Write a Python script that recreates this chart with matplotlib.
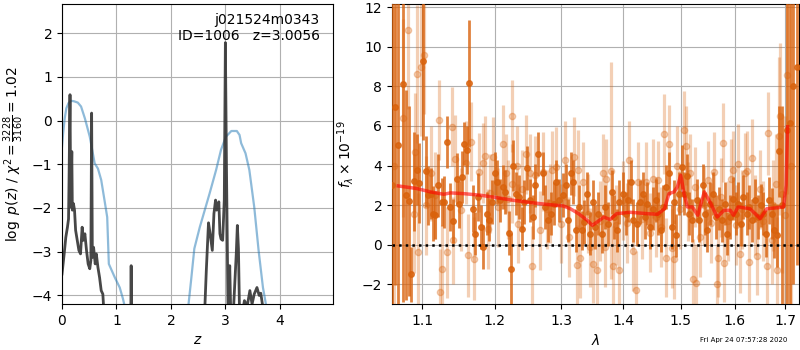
import matplotlib
matplotlib.use('Agg')
import matplotlib.pyplot as plt
from matplotlib.ticker import NullLocator, FixedLocator, FixedFormatter

# p(z) panel
pz_z = [0.00, 0.02, 0.05, 0.08, 0.12, 0.17, 0.22, 0.29, 0.35, 0.42, 0.51, 0.60,
        0.66, 0.72, 0.78, 0.83, 0.86, 0.97, 1.06, 1.12, 1.16, 1.3, 2.2, 2.32,
        2.37, 2.43, 2.53, 2.71, 2.83, 2.92, 3.01, 3.11, 3.21, 3.26, 3.29, 3.37,
        3.44, 3.53, 3.61, 3.69, 3.75, 3.9, 5.0]
pz_logp = [-0.60, -0.30, 0.05, 0.28, 0.40, 0.45, 0.44, 0.41, 0.32, 0.05, -0.37, -0.98,
           -1.10, -1.36, -1.82, -2.21, -3.28, -3.59, -3.82, -4.08, -4.3, -6.0, -6.0, -4.24,
           -3.66, -2.93, -2.44, -1.67, -1.13, -0.67, -0.37, -0.24, -0.24, -0.33, -0.52, -0.75,
           -1.13, -1.98, -2.97, -3.82, -4.24, -6.0, -8.0]

chi2_z = [0.00, 0.04, 0.07, 0.10, 0.12, 0.13, 0.147, 0.16, 0.18, 0.19, 0.21, 0.23,
          0.25, 0.28, 0.31, 0.34, 0.37, 0.39, 0.42, 0.45, 0.48, 0.51, 0.53, 0.544,
          0.557, 0.58, 0.61, 0.63, 0.66, 0.69, 0.72, 0.75, 0.78, 0.90, 1.10, 1.255,
          1.27, 1.285, 1.50, 2.40, 2.60, 2.65, 2.69, 2.72, 2.76, 2.79, 2.82, 2.84,
          2.88, 2.90, 2.92, 2.95, 2.98, 3.00, 3.02, 3.05, 3.08, 3.10, 3.15, 3.20,
          3.22, 3.24, 3.26, 3.30, 3.35, 3.40, 3.45, 3.49, 3.53, 3.58, 3.62, 3.65,
          3.68, 3.72, 4.00, 5.00]
chi2_logp = [-3.51, -3.05, -2.67, -2.44, -2.25, -1.29, 0.59, -1.98, -0.71, -2.05, -1.90, -2.05,
             -2.51, -2.74, -2.97, -3.05, -2.44, -2.74, -2.59, -2.97, -3.28, -3.39, -3.20, 0.17,
             -3.13, -2.90, -3.28, -3.05, -3.36, -3.59, -3.89, -3.97, -4.60, -7.0, -9.0, -6.0,
             -3.32, -6.0, -10.0, -10.0, -5.0, -3.43, -2.34, -2.59, -2.97, -2.13, -1.82, -2.05,
             -1.86, -2.59, -2.71, -2.74, -1.82, 1.78, -1.06, -4.50, -3.32, -4.50, -4.30, -3.05,
             -2.40, -2.93, -4.40, -4.50, -4.12, -4.25, -3.89, -4.20, -3.97, -3.82, -4.00, -3.95,
             -4.20, -5.0, -9.0, -12.0]

# spectrum panel: first beam (dark)
dark_wave = [1.0615, 1.0645, 1.0688, 1.0752, 1.0787, 1.0830, 1.0860, 1.0891, 1.0927, 1.0960,
             1.1013, 1.1045, 1.1079, 1.1115, 1.1146, 1.1178, 1.1213, 1.1259, 1.1290, 1.1335,
             1.1381, 1.1417, 1.1464, 1.1495, 1.1533, 1.1564, 1.1602, 1.1634, 1.1686, 1.1718,
             1.1756, 1.1799, 1.1835, 1.1884, 1.1917, 1.1956, 1.2003, 1.2036, 1.2075, 1.2114,
             1.2148, 1.2206, 1.2231, 1.2269, 1.2310, 1.2354, 1.2394, 1.2428, 1.2477, 1.2518,
             1.2558, 1.2593, 1.2642, 1.2710, 1.2745, 1.2795, 1.2832, 1.2883, 1.2914, 1.2965,
             1.3018, 1.3070, 1.3106, 1.3144, 1.3185, 1.3228, 1.3280, 1.3318, 1.3355, 1.3407,
             1.3451, 1.3494, 1.3534, 1.3587, 1.3643, 1.3697, 1.3751, 1.3807, 1.3846, 1.3891,
             1.3934, 1.3991, 1.4047, 1.4085, 1.4126, 1.4170, 1.4228, 1.4285, 1.4331, 1.4371,
             1.4410, 1.4458, 1.4504, 1.4562, 1.4601, 1.4644, 1.4689, 1.4737, 1.4790, 1.4838,
             1.4880, 1.4916, 1.4974, 1.5018, 1.5060, 1.5108, 1.5155, 1.5205, 1.5290, 1.5339,
             1.5400, 1.5443, 1.5486, 1.5536, 1.5598, 1.5648, 1.5711, 1.5755, 1.5818, 1.5862,
             1.5913, 1.5964, 1.6028, 1.6073, 1.6118, 1.6170, 1.6235, 1.6287, 1.6339, 1.6398,
             1.6451, 1.6510, 1.6563, 1.6616, 1.6670, 1.6730, 1.6777, 1.6830, 1.6884, 1.6930,
             1.7034, 1.7102, 1.7171, 1.7240]
dark_flux = [3.00, 6.97, 5.06, 8.10, 2.50, 2.19, -1.50, 3.20, 3.80, 3.12,
             9.28, 3.71, 2.50, 2.58, 1.57, 1.49, 3.00, 2.16, 2.16, 5.20,
             1.90, 1.20, 3.34, 2.04, 3.43, 5.11, 4.78, 8.15, 1.82, 0.56,
             2.41, 0.89, -0.12, 1.57, 1.27, 2.16, 3.60, 3.17, 2.24, 2.92,
             2.67, 0.60, -1.22, 4.00, 2.58, 2.41, 0.81, 2.16, 3.88, 2.24,
             1.40, 3.00, 4.57, 3.60, 1.90, 1.23, 1.57, 2.08, 3.17, 2.24,
             2.50, 3.00, 1.23, 3.60, 3.17, 0.73, 1.90, 0.73, 1.15, 2.58,
             0.56, 2.16, 0.89, 1.57, 0.56, 1.90, 1.06, 2.67, 1.40, 0.73,
             2.16, 2.58, 1.57, 2.24, 3.17, 1.23, 1.06, 2.16, 2.58, 1.40,
             2.08, 0.89, 1.82, 2.24, 1.57, 0.73, 1.90, 2.92, 3.60, 0.89,
             2.16, 0.47, 2.58, 3.93, 2.58, 3.48, 1.57, 1.23, 2.24, 1.23,
             3.00, 1.57, 0.73, 2.08, 2.58, 1.40, 1.82, 1.23, 2.08, 0.56,
             1.40, 2.33, 1.57, 2.08, 1.06, 2.41, 1.57, 1.90, 1.23, 2.24,
             1.40, 1.99, 1.57, 0.56, 2.24, 1.57, 0.73, 0.47, 4.73, 2.00,
             5.79, 6.13, 8.00, 9.00]
dark_err = [12.0, 9.0, 10.0, 11.0, 5.3, 4.8, 1.4, 2.5, 1.8, 2.0,
            4.0, 1.8, 1.5, 1.3, 1.4, 1.2, 1.6, 1.2, 1.3, 1.3,
            1.2, 1.1, 1.3, 1.2, 1.3, 1.1, 1.2, 3.2, 1.2, 1.1,
            1.2, 1.1, 1.1, 1.1, 1.1, 1.1, 1.1, 1.1, 1.1, 1.1,
            1.1, 1.1, 1.8, 1.3, 1.1, 1.1, 1.1, 1.1, 1.1, 1.1,
            1.1, 1.1, 1.1, 1.1, 1.1, 1.1, 1.1, 1.1, 1.1, 1.1,
            1.1, 1.1, 1.1, 1.1, 1.1, 1.1, 1.1, 1.0, 1.1, 1.1,
            1.1, 1.1, 1.1, 1.1, 1.0, 1.1, 1.1, 1.1, 1.1, 1.1,
            1.1, 1.1, 1.1, 1.1, 1.1, 1.1, 1.1, 1.1, 1.1, 1.1,
            1.1, 1.1, 1.1, 1.1, 1.1, 1.1, 1.1, 1.1, 1.1, 1.1,
            1.1, 1.1, 1.1, 1.1, 1.1, 1.1, 1.1, 1.1, 1.1, 1.1,
            1.1, 1.1, 1.1, 1.1, 1.1, 1.1, 1.1, 1.1, 1.1, 1.1,
            1.1, 1.1, 1.1, 1.1, 1.1, 1.1, 1.1, 1.1, 1.1, 1.1,
            1.1, 1.1, 1.1, 1.2, 1.2, 1.3, 1.4, 1.6, 2.3, 5.0,
            10.0, 10.0, 10.0, 10.0]

# second beam (light)
light_wave = [1.0640, 1.0752, 1.0813, 1.0891, 1.0910, 1.0935, 1.0945, 1.0990, 1.1025, 1.1050,
              1.1122, 1.1170, 1.1230, 1.1245, 1.1270, 1.1330, 1.1400, 1.1420, 1.1440, 1.1530,
              1.1600, 1.1620, 1.1670, 1.1705, 1.1775, 1.1830, 1.1865, 1.1900, 1.1935, 1.1980,
              1.2050, 1.2123, 1.2163, 1.2190, 1.2246, 1.2256, 1.2320, 1.2343, 1.2400, 1.2458,
              1.2518, 1.2543, 1.2593, 1.2670, 1.2719, 1.2780, 1.2822, 1.2848, 1.2914, 1.2988,
              1.3055, 1.3122, 1.3197, 1.3249, 1.3265, 1.3292, 1.3344, 1.3424, 1.3451, 1.3506,
              1.3571, 1.3620, 1.3659, 1.3697, 1.3713, 1.3790, 1.3834, 1.3880, 1.3934, 1.4001,
              1.4060, 1.4102, 1.4170, 1.4216, 1.4256, 1.4320, 1.4387, 1.4450, 1.4514, 1.4560,
              1.4601, 1.4650, 1.4702, 1.4733, 1.4790, 1.4838, 1.4885, 1.4928, 1.4990, 1.5065,
              1.5089, 1.5130, 1.5169, 1.5229, 1.5250, 1.5278, 1.5351, 1.5420, 1.5505, 1.5560,
              1.5610, 1.5660, 1.5692, 1.5740, 1.5787, 1.5798, 1.5881, 1.5926, 1.5964, 1.6020,
              1.6073, 1.6104, 1.6150, 1.6202, 1.6248, 1.6287, 1.6345, 1.6400, 1.6444, 1.6497,
              1.6560, 1.6643, 1.6663, 1.6730, 1.6760, 1.6817, 1.6844, 1.6879, 1.6890, 1.6933,
              1.6990, 1.7048, 1.7120]
light_flux = [4.00, 6.38, 10.85, 1.57, 4.69, 8.62, -0.37, 9.00, 9.59, 2.00,
              3.60, 2.50, 6.30, -2.40, -1.22, -0.37, 5.96, 0.22, 4.35, 1.77,
              4.15, -0.54, 5.20, -0.71, 3.65, 4.13, 4.49, 0.80, 2.60, 4.44,
              1.90, 5.08, 3.60, 2.30, 3.09, 6.50, 4.00, 1.06, 2.80, 4.57,
              3.60, -1.05, 3.50, 0.73, 3.68, 1.80, 2.10, 3.76, 3.93, 1.06,
              4.27, 0.39, 4.44, -1.01, 3.80, -0.68, 3.17, 1.57, -0.12, -0.96,
              -1.27, 1.20, 3.60, -0.12, 3.34, 3.75, -1.05, 1.00, -1.30, 2.24,
              1.10, 4.27, -0.32, -2.31, 3.17, 1.30, 3.17, 0.60, 3.34, 1.40,
              3.26, 0.90, 5.59, -0.66, 5.08, -0.17, -0.74, 4.00, 1.80, 5.79,
              5.01, 2.20, 3.60, -1.72, 2.92, -1.94, 0.39, 2.00, 3.26, 1.10,
              3.68, -1.97, -0.66, 2.40, 5.16, -0.91, 1.20, 3.34, 3.76, 1.00,
              4.10, -0.46, 1.80, 3.63, 3.73, -0.89, 4.37, 1.50, -0.56, 2.80,
              1.20, -1.06, 5.62, 0.22, 2.00, 3.09, -1.30, 5.49, 6.50, 2.58,
              1.50, 8.57, 4.00]
light_err = [8.0, 5.0, 4.0, 3.0, 3.0, 3.5, 3.0, 3.5, 3.0, 2.5,
             2.4, 2.2, 2.0, 2.2, 2.2, 2.3, 2.0, 2.2, 2.2, 2.1,
             2.1, 2.1, 2.0, 2.1, 2.0, 2.0, 2.0, 2.0, 2.0, 2.0,
             2.0, 2.0, 2.0, 2.0, 2.0, 1.8, 2.0, 2.0, 2.0, 2.0,
             2.0, 2.0, 2.0, 2.0, 2.0, 2.0, 2.0, 2.0, 2.0, 2.0,
             2.0, 2.0, 2.0, 2.0, 2.0, 2.0, 2.0, 2.0, 2.0, 2.0,
             2.0, 2.0, 2.0, 2.0, 2.0, 5.5, 2.0, 2.0, 2.0, 2.0,
             2.0, 2.0, 2.0, 2.0, 2.0, 2.0, 2.0, 2.0, 2.0, 2.0,
             2.0, 2.0, 2.0, 2.0, 2.0, 2.0, 2.0, 2.0, 2.0, 2.0,
             2.0, 2.0, 2.0, 2.0, 2.0, 2.0, 2.0, 2.0, 2.0, 2.0,
             2.0, 2.0, 2.0, 2.0, 2.0, 2.0, 2.0, 2.0, 2.0, 2.0,
             2.0, 2.0, 2.0, 2.0, 2.0, 2.0, 2.0, 2.0, 2.0, 2.0,
             2.0, 2.1, 2.1, 2.2, 2.3, 2.5, 2.7, 4.0, 3.7, 4.0,
             5.0, 6.0, 9.0]

# best-fit model
model_wave = [1.069, 1.093, 1.111, 1.129, 1.138, 1.157, 1.180, 1.203, 1.228, 1.253,
              1.277, 1.303, 1.314, 1.327, 1.341, 1.349, 1.357, 1.368, 1.378, 1.389,
              1.412, 1.441, 1.459, 1.471, 1.479, 1.488, 1.494, 1.500, 1.506, 1.512,
              1.521, 1.531, 1.543, 1.555, 1.567, 1.580, 1.592, 1.598, 1.607, 1.630,
              1.650, 1.663, 1.684, 1.697, 1.702, 1.705]
model_flux = [2.97, 2.84, 2.67, 2.55, 2.62, 2.58, 2.50, 2.38, 2.24, 2.13,
              2.04, 1.96, 1.82, 1.57, 1.23, 0.98, 1.15, 1.40, 1.27, 1.57,
              1.64, 1.57, 1.54, 1.82, 2.58, 2.67, 2.92, 3.51, 2.58, 1.91,
              1.91, 1.49, 2.67, 2.08, 1.40, 1.74, 1.74, 1.49, 1.91, 1.82,
              1.32, 1.82, 1.87, 1.91, 3.00, 5.96]

wave_ticks = [1.1, 1.2, 1.3, 1.4, 1.5, 1.6, 1.7]

fig = plt.figure(figsize=(8, 3.5), dpi=100)
ax1 = fig.add_axes([0.0775, 0.131, 0.339, 0.857])
ax2 = fig.add_axes([0.49, 0.131, 0.509, 0.857])

ax1.plot(pz_z, pz_logp, color='#1f77b4', alpha=0.5, linewidth=1.6)
ax1.plot(chi2_z, chi2_logp, color='0.2', alpha=0.9, linewidth=2)
ax1.set_xlim(0, 4.98)
ax1.set_ylim(-4.2, 2.66)
ax1.set_xticks([0, 1, 2, 3, 4])
ax1.set_yticks([-4, -3, -2, -1, 0, 1, 2])
ax1.grid(True)
ax1.set_xlabel('$z$')
ax1.set_ylabel(r'$\log\ p(z)$' + ' / ' + r'$\chi^2=\frac{3228}{3160}=1.02$')
ax1.text(0.95, 0.97, 'j021524m0343\nID=1006   z=3.0056',
         ha='right', va='top', transform=ax1.transAxes, fontsize=10)

orange = '#d9620c'
ax2.errorbar(light_wave, light_flux, yerr=light_err, fmt='o', color=orange,
             alpha=0.3, markersize=4.5, elinewidth=2.3, capsize=0, zorder=2)
ax2.errorbar(dark_wave, dark_flux, yerr=dark_err, fmt='o', color=orange,
             alpha=0.8, markersize=4, elinewidth=2.0, capsize=0, zorder=3)
ax2.plot(model_wave, model_flux, color='r', alpha=0.6, linewidth=2.5, zorder=4)
ax2.axhline(0, color='k', linestyle=':', linewidth=1.8, zorder=5)

ax2.set_xscale('log')
ax2.set_xlim(1.061, 1.729)
ax2.set_ylim(-3.0, 12.15)
ax2.xaxis.set_major_locator(FixedLocator(wave_ticks))
ax2.xaxis.set_major_formatter(FixedFormatter(['%.1f' % w for w in wave_ticks]))
ax2.xaxis.set_minor_locator(NullLocator())
ax2.set_yticks([-2, 0, 2, 4, 6, 8, 10, 12])
ax2.grid(True)
ax2.set_xlabel(r'$\lambda$')
ax2.set_ylabel(r'$f_\lambda\times10^{-19}$')

fig.text(744 / 800, 1 - 340 / 350, 'Fri Apr 24 07:57:28 2020',
         ha='center', va='center', fontsize=5)

fig.savefig('out.png', dpi=100)
